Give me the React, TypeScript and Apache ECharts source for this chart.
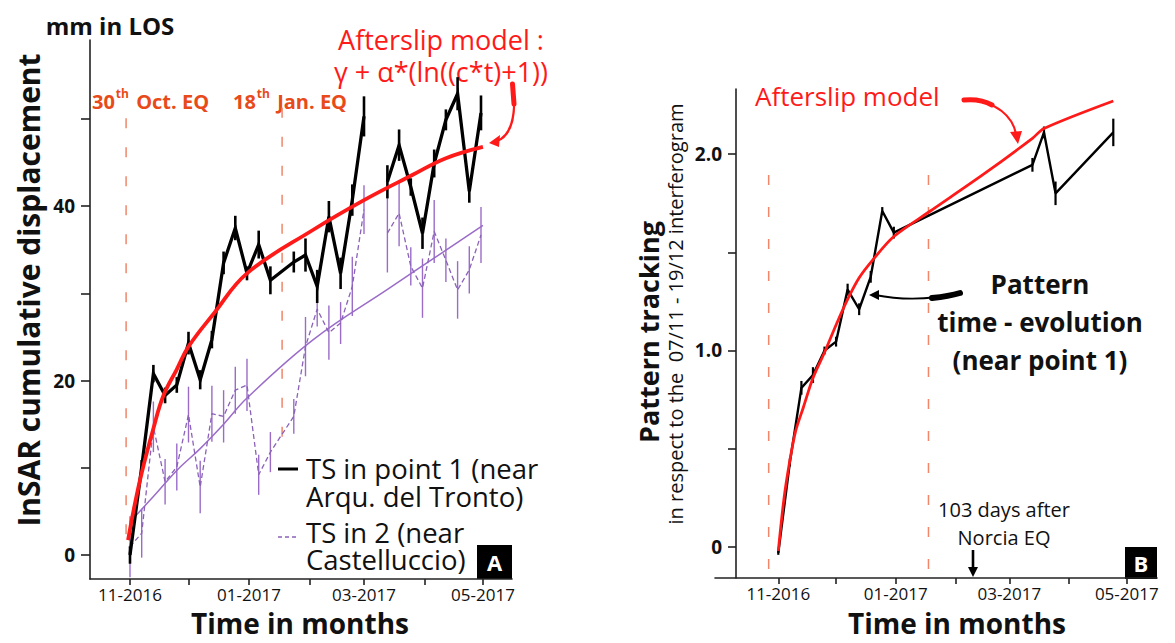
import React, { useEffect, useRef } from "react";
import * as echarts from "echarts";

// ---------------- DATA ----------------
// Panel A : InSAR time series (6-day acquisitions), mm in LOS
const A_DATES = [
  "2016-11-01", "2016-11-07", "2016-11-13", "2016-11-19", "2016-11-25", "2016-12-01",
  "2016-12-07", "2016-12-13", "2016-12-19", "2016-12-25", "2016-12-31", "2017-01-06",
  "2017-01-12", "2017-01-24", "2017-01-30", "2017-02-05", "2017-02-11", "2017-02-17",
  "2017-02-23", "2017-03-01", "2017-03-07", "2017-03-13", "2017-03-19", "2017-03-25",
  "2017-03-31", "2017-04-06", "2017-04-12", "2017-04-18", "2017-04-24", "2017-04-30",
];
const TS1 = [0.0, 10.1, 20.8, 18.3, 19.5, 24.3, 20.1, 24.7, 33.5, 37.5, 32.3, 35.6, 31.5, 33.6, 34.4,
  30.8, 38.8, 32.3, 40.7, 50.3, null, 42.8, 47.0, 42.2, 36.9, 44.9, 49.9, 52.9, 41.7, 50.7];
const TS1_ERR = [1.0, 0.8, 1.0, 0.9, 0.9, 1.3, 1.1, 1.0, 1.3, 1.4, 0.8, 1.6, 1.6, 1.2, 1.9,
  1.9, 1.8, 1.8, 1.8, 2.3, null, 1.9, 1.8, 1.0, 1.8, 1.6, 1.2, 1.9, 1.3, 2.0];
const TS2 = [0.95, 2.5, 14.7, 8.4, 10.1, 16.1, 7.8, 16.2, 15.9, 18.9, 19.5, 9.2, 11.8, 15.9, 23.9,
  28.2, 25.5, 26.6, 30.8, 39.6, null, 36.9, 39.2, 33.1, 30.6, 37.1, 33.8, 30.4, 32.7, 36.7];
const TS2_ERR = [3.5, 2.8, 2.9, 2.6, 2.7, 3.2, 3.0, 3.2, 3.0, 2.7, 3.0, 2.3, 2.3, 2.0, 3.4,
  2.0, 3.1, 2.4, 3.4, 2.8, null, 4.5, 3.8, 2.2, 3.4, 3.6, 2.5, 3.3, 2.7, 3.2];

// Afterslip model fitted on TS1
const A_MODEL_DATES = ["2016-10-31", "2016-11-03", "2016-11-07", "2016-11-13", "2016-11-18", "2016-11-25",
  "2016-12-01", "2016-12-14", "2016-12-31", "2017-02-03", "2017-03-01", "2017-03-26", "2017-04-12", "2017-05-01"];
const A_MODEL = [1.7, 5.3, 9.4, 14.5, 18.2, 21.3, 23.9, 27.7, 32.3, 37.3, 40.7, 43.6, 45.5, 46.8];

// Fit on TS2
const A_FIT2_DATES = ["2016-11-01", "2016-11-13", "2016-11-25", "2016-12-07", "2016-12-19", "2016-12-31",
  "2017-02-03", "2017-03-14", "2017-05-01"];
const A_FIT2 = [3.8, 6.7, 9.7, 12.2, 15.0, 18.0, 24.7, 30.6, 37.8];

// Earthquake marker lines (date, lower end, upper end)
const A_EQ_DATES = ["2016-10-30", "2017-01-18"];
const A_EQ_LOW = [0.2, 13.4];
const A_EQ_HIGH = [50.1, 51.3];

// Panel B : pattern tracking
const B_DATES = ["2016-11-01", "2016-11-07", "2016-11-13", "2016-11-19", "2016-11-25", "2016-12-01",
  "2016-12-07", "2016-12-13", "2016-12-19", "2016-12-25", "2016-12-31", "2017-03-13", "2017-03-19",
  "2017-03-25", "2017-04-24"];
const B_PT = [-0.03, 0.43, 0.81, 0.875, 1.0, 1.045, 1.31, 1.21, 1.375, 1.71, 1.6, 1.945, 2.11, 1.8, 2.11];
const B_ERR = [0.01, 0.02, 0.035, 0.04, 0.02, 0.025, 0.03, 0.03, 0.03, 0.02, 0.03, 0.035, 0.03, 0.06, 0.07];

const B_MODEL_DATES = ["2016-11-01", "2016-11-04", "2016-11-07", "2016-11-10", "2016-11-14", "2016-11-19",
  "2016-11-25", "2016-12-01", "2016-12-07", "2016-12-13", "2016-12-20", "2016-12-31", "2017-01-19",
  "2017-02-16", "2017-03-13", "2017-03-19", "2017-04-24"];
const B_MODEL = [-0.02, 0.25, 0.44, 0.59, 0.71, 0.86, 0.99, 1.13, 1.26, 1.37, 1.46, 1.58, 1.71, 1.9, 2.08, 2.13, 2.27];

const B_EQ_DATES = ["2016-10-27", "2017-01-18"];
const B_EQ_LOW = -0.158;
const B_EQ_HIGH = 1.893;

const MONTH_TICKS = ["2016-11-01", "2016-12-01", "2017-01-01", "2017-02-01", "2017-03-01", "2017-04-01", "2017-05-01"];
const MONTH_LABELS = ["2016-11-01", "2017-01-01", "2017-03-01", "2017-05-01"];
const A_Y_TICKS = [0, 10, 20, 30, 40, 50];
const A_Y_LABELS = [0, 20, 40];
const B_Y_TICKS = [0, 0.5, 1.0, 1.5, 2.0];
const B_Y_LABELS = [0, 1.0, 2.0];

// ---------------- HELPERS ----------------
const DAY = 86400000;
const ts = (s: string) => {
  const [y, m, d] = s.split("-").map(Number);
  return new Date(y, m - 1, d).getTime();
};
const NOV1 = ts("2016-11-01");
const FONT = "'Open Sans', 'DejaVu Sans', sans-serif";
const PURPLE = "#9a6cc8";
const EQC = "#f0866a";
const EQTXT = "#e84a1a";

const fmtMonth = (v: number) => {
  const d = new Date(v);
  const m = d.getMonth() + 1;
  return (m < 10 ? "0" + m : "" + m) + "-" + d.getFullYear();
};

const pairs = (dates: string[], vals: (number | null)[]) =>
  dates.map((d, i) => [ts(d), vals[i] == null ? "-" : vals[i]]);

const errData = (dates: string[], vals: (number | null)[], errs: (number | null)[]) =>
  dates
    .map((d, i) => (vals[i] == null ? null : [ts(d), (vals[i] as number) - (errs[i] as number), (vals[i] as number) + (errs[i] as number)]))
    .filter((x) => x != null);

const errSeries = (xi: number, data: any[], color: string, w: number) => ({
  type: "custom",
  xAxisIndex: xi,
  yAxisIndex: xi,
  encode: { x: 0, y: [1, 2] },
  data,
  renderItem: (_p: any, api: any) => {
    const x = api.value(0);
    const a = api.coord([x, api.value(1)]);
    const b = api.coord([x, api.value(2)]);
    return {
      type: "line",
      shape: { x1: a[0], y1: a[1], x2: b[0], y2: b[1] },
      style: { stroke: color, lineWidth: w },
    };
  },
  z: 2,
});

const eqSeries = (xi: number, date: string, lo: number, hi: number, dash: number[]) => ({
  type: "line",
  xAxisIndex: xi,
  yAxisIndex: xi,
  data: [[ts(date), hi], [ts(date), lo]],
  symbol: "none",
  lineStyle: { color: EQC, width: 1.5, type: dash },
  z: 1,
  silent: true,
});

const xAxisCfg = (gi: number, minDays: number, maxDays: number) => ({
  type: "value",
  gridIndex: gi,
  min: NOV1 + minDays * DAY,
  max: NOV1 + maxDays * DAY,
  axisLine: { show: true, onZero: false, lineStyle: { color: "#222", width: 1.6 } },
  axisTick: { show: true, length: 6, customValues: MONTH_TICKS.map(ts), lineStyle: { color: "#222", width: 1.6 } },
  axisLabel: {
    customValues: MONTH_LABELS.map(ts),
    formatter: (v: number) => fmtMonth(v),
    margin: 7,
    fontFamily: FONT,
    fontSize: 17,
    color: "#111",
  },
  splitLine: { show: false },
});

export default function App() {
  const ref = useRef<HTMLDivElement>(null);
  useEffect(() => {
    if (!ref.current) return;
    const chart = echarts.init(ref.current, undefined, { renderer: "svg" });

    const series: any[] = [];
    // ---- Panel A ----
    A_EQ_DATES.forEach((d, i) => series.push(eqSeries(0, d, A_EQ_LOW[i], A_EQ_HIGH[i], [10, 19])));
    series.push(errSeries(0, errData(A_DATES, TS2, TS2_ERR), PURPLE, 1.4));
    series.push({
      type: "line", xAxisIndex: 0, yAxisIndex: 0, name: "fit2",
      data: pairs(A_FIT2_DATES, A_FIT2), symbol: "none", smooth: 0.4,
      lineStyle: { color: PURPLE, width: 1.5 }, z: 3,
    });
    series.push({
      type: "line", xAxisIndex: 0, yAxisIndex: 0, name: "TS2",
      data: pairs(A_DATES, TS2), symbol: "none", connectNulls: false,
      lineStyle: { color: "#8a62b8", width: 1.3, type: [5, 3] }, z: 3,
    });
    series.push(errSeries(0, errData(A_DATES, TS1, TS1_ERR), "#000", 2.6));
    series.push({
      type: "line", xAxisIndex: 0, yAxisIndex: 0, name: "TS1",
      data: pairs(A_DATES, TS1), symbol: "none", connectNulls: false,
      lineStyle: { color: "#000", width: 3.3, join: "miter" }, z: 4,
    });
    series.push({
      type: "line", xAxisIndex: 0, yAxisIndex: 0, name: "model A",
      data: pairs(A_MODEL_DATES, A_MODEL), symbol: "none", smooth: 0.4,
      lineStyle: { color: "#ff1a1a", width: 3.8 }, z: 5,
    });
    // ---- Panel B ----
    B_EQ_DATES.forEach((d) => series.push(eqSeries(1, d, B_EQ_LOW, B_EQ_HIGH, [10, 22])));
    series.push(errSeries(1, errData(B_DATES, B_PT, B_ERR), "#000", 2.2));
    series.push({
      type: "line", xAxisIndex: 1, yAxisIndex: 1, name: "PT",
      data: pairs(B_DATES, B_PT), symbol: "none",
      lineStyle: { color: "#000", width: 2.4 }, z: 4,
    });
    series.push({
      type: "line", xAxisIndex: 1, yAxisIndex: 1, name: "model B",
      data: pairs(B_MODEL_DATES, B_MODEL), symbol: "none", smooth: 0.3,
      lineStyle: { color: "#ff1a1a", width: 2.8 }, z: 5,
    });

    const txt = (x: number, y: number, text: string, font: string, fill = "#111", align = "center", extra: any = {}, lh?: number) => ({
      type: "text", x, y, ...extra,
      style: { text, font, fill, textAlign: align, textVerticalAlign: "middle", ...(lh ? { lineHeight: lh } : {}) },
    });
    const eqLabel = (x: number, num: string, rest: string) => ({
      type: "text", x, y: 99,
      style: {
        text: `{a|${num}}{b|th}{a|${rest}}`,
        textAlign: "left",
        textVerticalAlign: "middle",
        rich: {
          a: { font: `bold 20px ${FONT}`, fill: EQTXT, lineHeight: 24, verticalAlign: "bottom" },
          b: { font: `bold 12px ${FONT}`, fill: EQTXT, lineHeight: 24, verticalAlign: "top", padding: [0, 2, 0, 1] },
        },
      },
    });

    const graphic: any[] = [
      // Panel A texts
      txt(110, 25, "mm in LOS", `bold 24px ${FONT}`),
      txt(28, 290, "InSAR cumulative displacement", `bold 30px ${FONT}`, "#111", "center", { rotation: Math.PI / 2 }),
      txt(300, 623, "Time in months", `bold 28px ${FONT}`),
      txt(441, 55, "Afterslip model :\nγ + α*(ln((c*t)+1))", `27px ${FONT}`, "#ff1a1a", "center", {}, 32),
      eqLabel(92, "30", " Oct. EQ"),
      eqLabel(233, "18", " Jan. EQ"),
      { type: "line", shape: { x1: 278, y1: 469, x2: 298, y2: 469 }, style: { stroke: "#000", lineWidth: 3 } },
      txt(306, 482, "TS in point 1 (near\nArqu. del Tronto)", `27.5px ${FONT}`, "#111", "left", {}, 28),
      { type: "line", shape: { x1: 278, y1: 537, x2: 298, y2: 537 }, style: { stroke: "#8a62b8", lineWidth: 1.3, lineDash: [4, 3] } },
      txt(306, 546, "TS in 2 (near\nCastelluccio)", `27.5px ${FONT}`, "#111", "left", {}, 27),
      { type: "rect", shape: { x: 477, y: 545, width: 35, height: 34 }, style: { fill: "#000" } },
      txt(494.5, 562, "A", `bold 22px ${FONT}`, "#fff"),
      // red arrow A
      { type: "bezierCurve", shape: { x1: 513, y1: 84, cpx1: 517, cpy1: 118, cpx2: 510, cpy2: 136, x2: 497, y2: 141 }, style: { stroke: "#ff1a1a", lineWidth: 2.2, fill: "none" } },
      { type: "line", shape: { x1: 512.5, y1: 84, x2: 514, y2: 104 }, style: { stroke: "#ff1a1a", lineWidth: 5, lineCap: "round" } },
      { type: "polygon", shape: { points: [[489, 143], [500, 135], [499, 147]] }, style: { fill: "#ff1a1a" } },

      // Panel B texts
      txt(648, 332, "Pattern tracking", `bold 27px ${FONT}`, "#111", "center", { rotation: Math.PI / 2 }),
      txt(675, 314, "in respect to the  07/11 - 19/12 interferogram", `20px ${FONT}`, "#111", "center", { rotation: Math.PI / 2 }),
      txt(957, 623, "Time in months", `bold 28px ${FONT}`),
      txt(755, 96, "Afterslip model", `26px ${FONT}`, "#ff1a1a", "left"),
      txt(1040, 322, "Pattern\ntime - evolution\n(near point 1)", `bold 26px ${FONT}`, "#111", "center", {}, 38),
      txt(1004, 523, "103 days after\nNorcia EQ", `20px ${FONT}`, "#111", "center", {}, 28),
      { type: "line", shape: { x1: 973, y1: 550, x2: 973, y2: 568 }, style: { stroke: "#000", lineWidth: 2.6 } },
      { type: "polygon", shape: { points: [[968, 567], [978, 567], [973, 577]] }, style: { fill: "#000" } },
      { type: "rect", shape: { x: 1125, y: 547, width: 32, height: 32 }, style: { fill: "#000" } },
      txt(1141, 563, "B", `bold 22px ${FONT}`, "#fff"),
      // red arrow B
      { type: "bezierCurve", shape: { x1: 964, y1: 100, cpx1: 998, cpy1: 100, cpx2: 1013, cpy2: 118, x2: 1016, y2: 134 }, style: { stroke: "#ff1a1a", lineWidth: 2.2, fill: "none" } },
      { type: "bezierCurve", shape: { x1: 964, y1: 100, cpx1: 975, cpy1: 99, cpx2: 985, cpy2: 101, x2: 992, y2: 105 }, style: { stroke: "#ff1a1a", lineWidth: 5, fill: "none", lineCap: "round" } },
      { type: "polygon", shape: { points: [[1010, 132], [1022, 131], [1018, 144]] }, style: { fill: "#ff1a1a" } },
      // black arrow B
      { type: "bezierCurve", shape: { x1: 960, y1: 293, cpx1: 930, cpy1: 300, cpx2: 900, cpy2: 300, x2: 875, y2: 295 }, style: { stroke: "#000", lineWidth: 1.8, fill: "none" } },
      { type: "bezierCurve", shape: { x1: 960, y1: 293, cpx1: 950, cpy1: 296, cpx2: 942, cpy2: 297, x2: 932, y2: 298 }, style: { stroke: "#000", lineWidth: 6, fill: "none", lineCap: "round" } },
      { type: "polygon", shape: { points: [[869, 295], [879, 290], [879, 300]] }, style: { fill: "#000" } },
    ];

    const option: any = {
      animation: false,
      backgroundColor: "#fff",
      grid: [
        { left: 90, top: 40, width: 422, height: 539 },
        { left: 715, top: 89, width: 442, height: 489 },
      ],
      xAxis: [xAxisCfg(0, -20.51, 195.9), xAxisCfg(1, -32.88, 196.7)],
      yAxis: [
        {
          type: "value", gridIndex: 0, min: -2.752, max: 59.06,
          axisLine: { show: true, onZero: false, lineStyle: { color: "#222", width: 1.6 } },
          axisTick: { show: true, length: 9, customValues: A_Y_TICKS, lineStyle: { color: "#222", width: 1.6 } },
          axisLabel: { customValues: A_Y_LABELS, margin: 15, fontFamily: FONT, fontSize: 19, fontWeight: "bold", color: "#111" },
          splitLine: { show: false },
        },
        {
          type: "value", gridIndex: 1, min: -0.158, max: 2.331, offset: -21,
          axisLine: { show: true, onZero: false, lineStyle: { color: "#222", width: 1.6 } },
          axisTick: { show: true, length: 8, customValues: B_Y_TICKS, lineStyle: { color: "#222", width: 1.6 } },
          axisLabel: {
            customValues: B_Y_LABELS, margin: 14, fontFamily: FONT, fontSize: 19, fontWeight: "bold", color: "#111",
            formatter: (v: number) => (v === 0 ? "0" : v.toFixed(1)),
          },
          splitLine: { show: false },
        },
      ],
      series,
      graphic: { elements: graphic },
    };
    chart.setOption(option);
    return () => chart.dispose();
  }, []);
  return (
    <div
      ref={ref}
      style={{ position: "absolute", left: 0, top: 0, width: 1175, height: 643, background: "#fff" }}
    />
  );
}
